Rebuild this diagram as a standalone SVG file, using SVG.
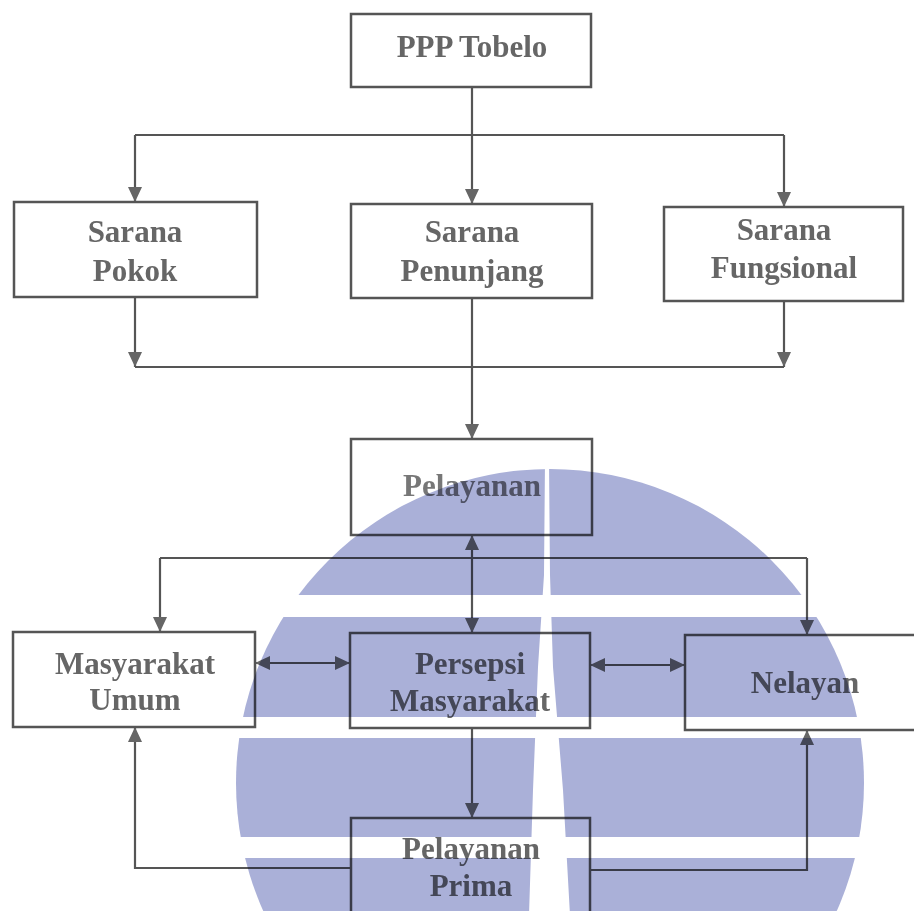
<svg xmlns="http://www.w3.org/2000/svg" width="914" height="911" viewBox="0 0 914 911">
<defs>
<style>
.box{fill:none;stroke:#555;stroke-width:2.5}
.ln{fill:none;stroke:#555;stroke-width:2.2}
.t{font-family:"Liberation Serif","Times New Roman",serif;font-weight:bold;font-size:31px;fill:#666;text-anchor:middle}
.wm{fill:#aab0d8}
</style>
<marker id="ah" viewBox="0 0 15 16" refX="15" refY="8" markerWidth="15" markerHeight="16" markerUnits="userSpaceOnUse" orient="auto-start-reverse">
<path d="M0,1 L15,8 L0,15 Z" fill="#666"/>
</marker>
<clipPath id="circ"><circle cx="550" cy="783" r="314"/></clipPath>
</defs>
<rect x="0" y="0" width="914" height="911" fill="#fff"/>

<g id="connectors">
<path class="ln" d="M472,87 V135 M135,135 H784"/>
<path class="ln" d="M135,135 V202" marker-end="url(#ah)"/>
<path class="ln" d="M472,135 V204" marker-end="url(#ah)"/>
<path class="ln" d="M784,135 V207" marker-end="url(#ah)"/>
<path class="ln" d="M135,297 V367" marker-end="url(#ah)"/>
<path class="ln" d="M784,301 V367" marker-end="url(#ah)"/>
<path class="ln" d="M135,367 H784"/>
<path class="ln" d="M472,298 V439" marker-end="url(#ah)"/>
<path class="ln" d="M472,535 V633" marker-start="url(#ah)" marker-end="url(#ah)"/>
<path class="ln" d="M160,558 H807"/>
<path class="ln" d="M160,558 V632" marker-end="url(#ah)"/>
<path class="ln" d="M807,558 V635" marker-end="url(#ah)"/>
<path class="ln" d="M255,663 H350" marker-start="url(#ah)" marker-end="url(#ah)"/>
<path class="ln" d="M590,665 H685" marker-start="url(#ah)" marker-end="url(#ah)"/>
<path class="ln" d="M472,728 V818" marker-end="url(#ah)"/>
<path class="ln" d="M351,868 H135 V727" marker-end="url(#ah)"/>
<path class="ln" d="M590,870 H807 V730" marker-end="url(#ah)"/>
</g>

<g id="ppp-tobelo">
<rect class="box" x="351" y="14" width="240" height="73"/>
<text class="t" x="472" y="57">PPP Tobelo</text>
</g>
<g id="sarana-pokok">
<rect class="box" x="14" y="202" width="243" height="95"/>
<text class="t" x="135" y="242">Sarana</text>
<text class="t" x="135" y="281">Pokok</text>
</g>
<g id="sarana-penunjang">
<rect class="box" x="351" y="204" width="241" height="94"/>
<text class="t" x="472" y="242">Sarana</text>
<text class="t" x="472" y="281">Penunjang</text>
</g>
<g id="sarana-fungsional">
<rect class="box" x="664" y="207" width="239" height="94"/>
<text class="t" x="784" y="240">Sarana</text>
<text class="t" x="784" y="278">Fungsional</text>
</g>
<g id="pelayanan">
<rect class="box" x="351" y="439" width="241" height="96"/>
<text class="t" x="472" y="496" style="fill:#777">Pelayanan</text>
</g>
<g id="masyarakat-umum">
<rect class="box" x="13" y="632" width="242" height="95"/>
<text class="t" x="135" y="674">Masyarakat</text>
<text class="t" x="135" y="710">Umum</text>
</g>
<g id="persepsi-masyarakat">
<rect class="box" x="350" y="633" width="240" height="95"/>
<text class="t" x="470" y="674">Persepsi</text>
<text class="t" x="470" y="711">Masyarakat</text>
</g>
<g id="nelayan">
<rect class="box" x="685" y="635" width="240" height="95"/>
<text class="t" x="805" y="693">Nelayan</text>
</g>
<g id="pelayanan-prima">
<rect class="box" x="351" y="818" width="239" height="110"/>
<text class="t" x="471" y="859">Pelayanan</text>
<text class="t" x="471" y="896">Prima</text>
</g>

<g id="watermark" style="mix-blend-mode:multiply">
<g clip-path="url(#circ)">
<rect class="wm" x="200" y="460" width="720" height="135"/>
<rect class="wm" x="200" y="617" width="720" height="100"/>
<rect class="wm" x="200" y="738" width="720" height="99"/>
<rect class="wm" x="200" y="858" width="720" height="60"/>
</g>
<polygon fill="#fff" points="545,460 549,460 550,575 553,667 563,790 570,915 529,915 533,790 538,667 544,575"/>
</g>
</svg>
